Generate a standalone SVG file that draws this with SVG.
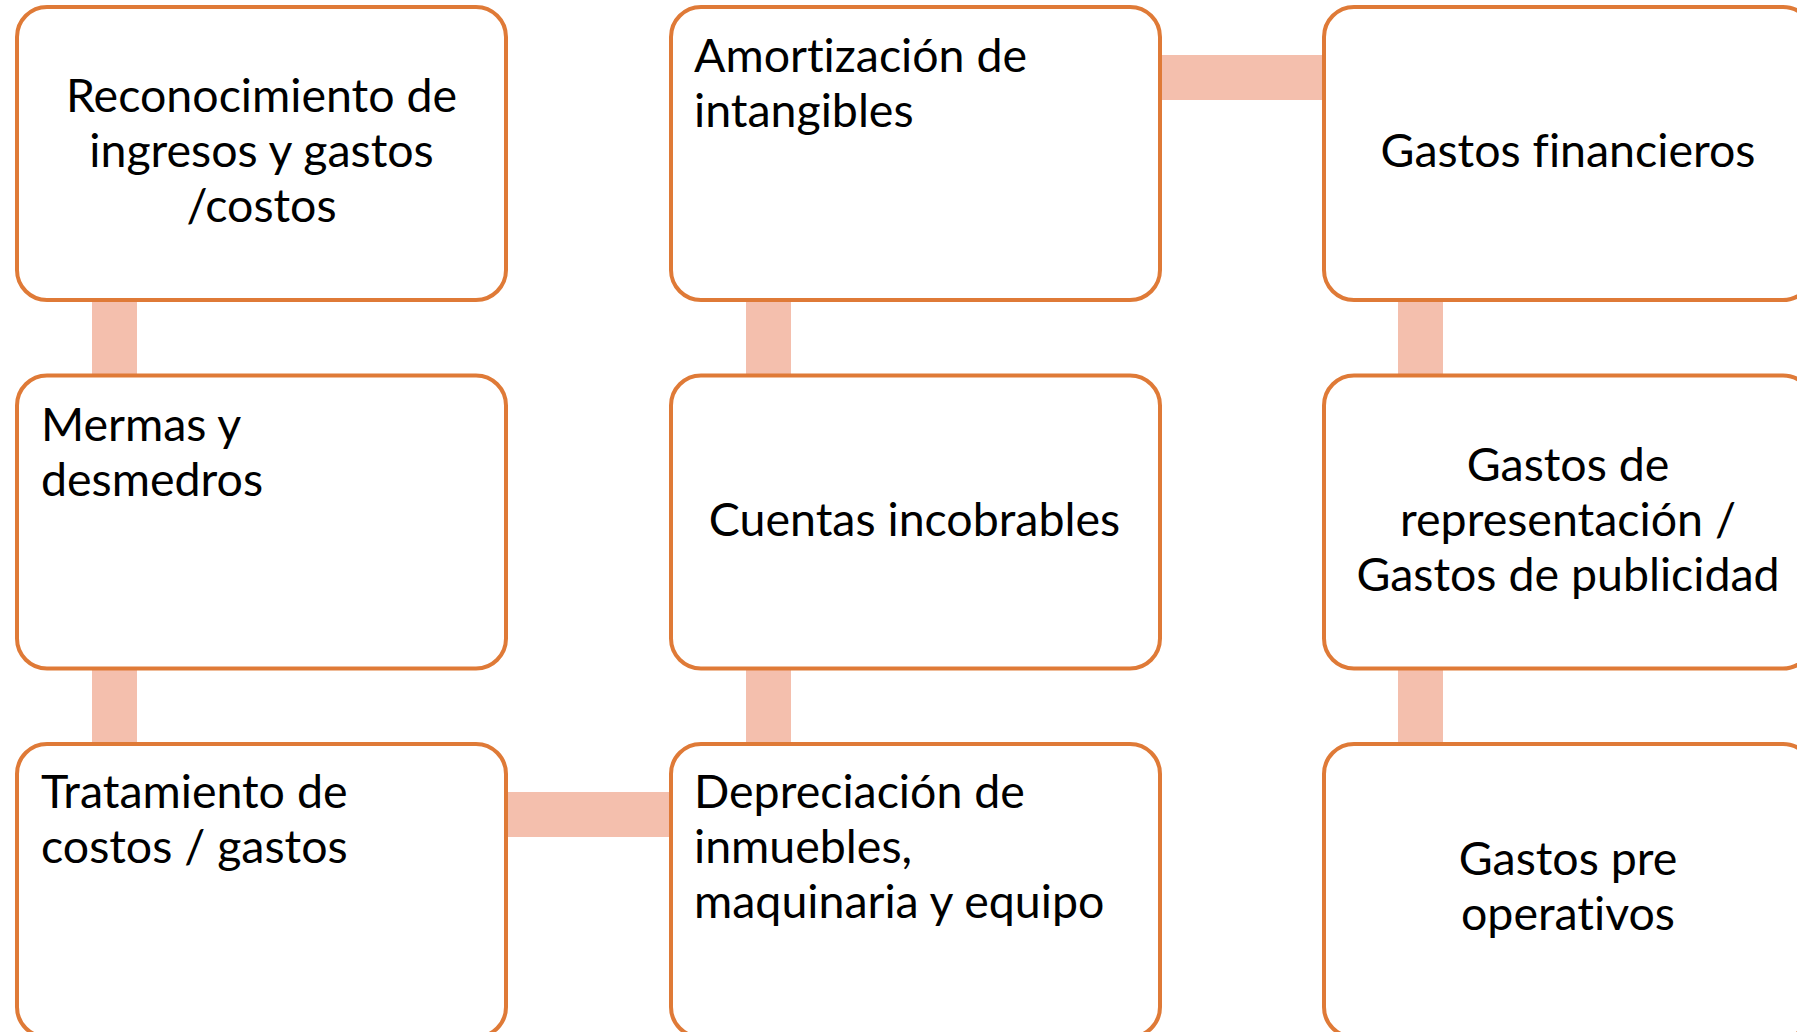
<svg xmlns="http://www.w3.org/2000/svg" width="1797" height="1032" viewBox="0 0 1797 1032">
<style>
.box{fill:#ffffff;stroke:#DF7A37;stroke-width:4}
.con{fill:#F4BFAD}
text{font-family:Lato,"Liberation Sans",sans-serif;font-size:46.5px;fill:#000000;font-variant-ligatures:none}
.c{text-anchor:middle}
</style>
<rect x="0" y="0" width="1797" height="1032" fill="#ffffff"/>
<g id="connectors">
<rect class="con" x="92" y="298" width="45" height="80"/>
<rect class="con" x="92" y="665" width="45" height="82"/>
<rect class="con" x="505" y="792" width="168" height="45"/>
<rect class="con" x="746" y="665" width="45" height="82"/>
<rect class="con" x="746" y="298" width="45" height="80"/>
<rect class="con" x="1157" y="55" width="170" height="45"/>
<rect class="con" x="1398" y="298" width="45" height="80"/>
<rect class="con" x="1398" y="665" width="45" height="82"/>
</g>
<g id="n1">
<rect class="box" x="17" y="7" width="489" height="293" rx="30"/>
<text class="c" x="261.5" y="112">Reconocimiento de</text>
<text class="c" x="261.5" y="167">ingresos y gastos</text>
<text class="c" x="261.5" y="222">/costos</text>
</g>
<g id="n2">
<rect class="box" x="671" y="7" width="489" height="293" rx="30"/>
<text x="694" y="72">Amortización de</text>
<text x="694" y="127">intangibles</text>
</g>
<g id="n3">
<rect class="box" x="1324" y="7" width="489" height="293" rx="30"/>
<text class="c" x="1568" y="167">Gastos financieros</text>
</g>
<g id="n4">
<rect class="box" x="17" y="375.5" width="489" height="293" rx="30"/>
<text x="41" y="440.5">Mermas y</text>
<text x="41" y="495.5">desmedros</text>
</g>
<g id="n5">
<rect class="box" x="671" y="375.5" width="489" height="293" rx="30"/>
<text class="c" x="914.5" y="535.5">Cuentas incobrables</text>
</g>
<g id="n6">
<rect class="box" x="1324" y="375.5" width="489" height="293" rx="30"/>
<text class="c" x="1568" y="480.5">Gastos de</text>
<text class="c" x="1568" y="535.5">representación /</text>
<text class="c" x="1568" y="590.5">Gastos de publicidad</text>
</g>
<g id="n7">
<rect class="box" x="17" y="744" width="489" height="293" rx="30"/>
<text x="41" y="808">Tratamiento de</text>
<text x="41" y="863">costos / gastos</text>
</g>
<g id="n8">
<rect class="box" x="671" y="744" width="489" height="293" rx="30"/>
<text x="694" y="808">Depreciación de</text>
<text x="694" y="863">inmuebles,</text>
<text x="694" y="918">maquinaria y equipo</text>
</g>
<g id="n9">
<rect class="box" x="1324" y="744" width="489" height="293" rx="30"/>
<text class="c" x="1568" y="875">Gastos pre</text>
<text class="c" x="1568" y="930">operativos</text>
</g>
</svg>
